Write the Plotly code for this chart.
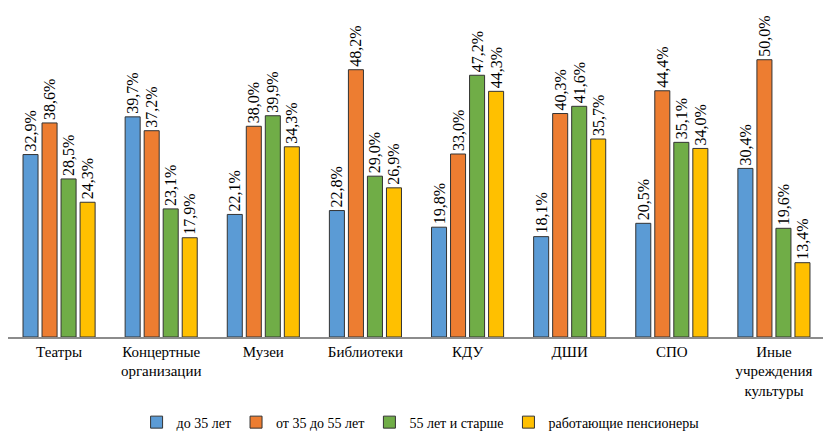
import plotly.graph_objects as go

categories = ["Театры", "Концертные<br>организации", "Музеи", "Библиотеки", "КДУ", "ДШИ", "СПО",
              "Иные<br>учреждения<br>культуры"]
series_names = ["до 35 лет", "от 35 до 55 лет", "55 лет и старше", "работающие пенсионеры"]
under_35 = [32.9, 39.7, 22.1, 22.8, 19.8, 18.1, 20.5, 30.4]
from_35_to_55 = [38.6, 37.2, 38.0, 48.2, 33.0, 40.3, 44.4, 50.0]
over_55 = [28.5, 23.1, 39.9, 29.0, 47.2, 41.6, 35.1, 19.6]
pensioners = [24.3, 17.9, 34.3, 26.9, 44.3, 35.7, 34.0, 13.4]
colors = ["#5B9BD5", "#ED7D31", "#70AD47", "#FFC000"]

FONT = "Liberation Serif, Times New Roman, serif"

fig = go.Figure()
for name, vals, col in zip(series_names, [under_35, from_35_to_55, over_55, pensioners], colors):
    fig.add_trace(go.Bar(
        x=categories, y=vals, name=name,
        marker=dict(color=col, line=dict(color="#333333", width=1)),
        text=[f"{v:.1f}%".replace(".", ",") for v in vals],
        textposition="outside", textangle=-90, constraintext="none",
        cliponaxis=False,
        textfont=dict(family=FONT, size=16, color="#000000"),
    ))

fig.update_layout(
    width=823, height=423,
    margin=dict(l=0, r=6, t=24, b=94),
    paper_bgcolor="white", plot_bgcolor="white",
    barmode="group", bargap=0.255, bargroupgap=0.21,
    font=dict(family=FONT, size=15, color="#000000"),
    showlegend=True,
    legend=dict(orientation="h", x=0.505, xanchor="center",
                yref="container", y=0.02, yanchor="middle",
                font=dict(family=FONT, size=14, color="#000000"),
                traceorder="normal", itemwidth=30),
    xaxis=dict(showline=True, linecolor="#8c8c8c", linewidth=1.5, ticks="",
               automargin=False,
               tickfont=dict(family=FONT, size=15, color="#000000"), showgrid=False),
    yaxis=dict(range=[0, 55], visible=False, showgrid=False, zeroline=False),
)

fig.write_html("out.html")
